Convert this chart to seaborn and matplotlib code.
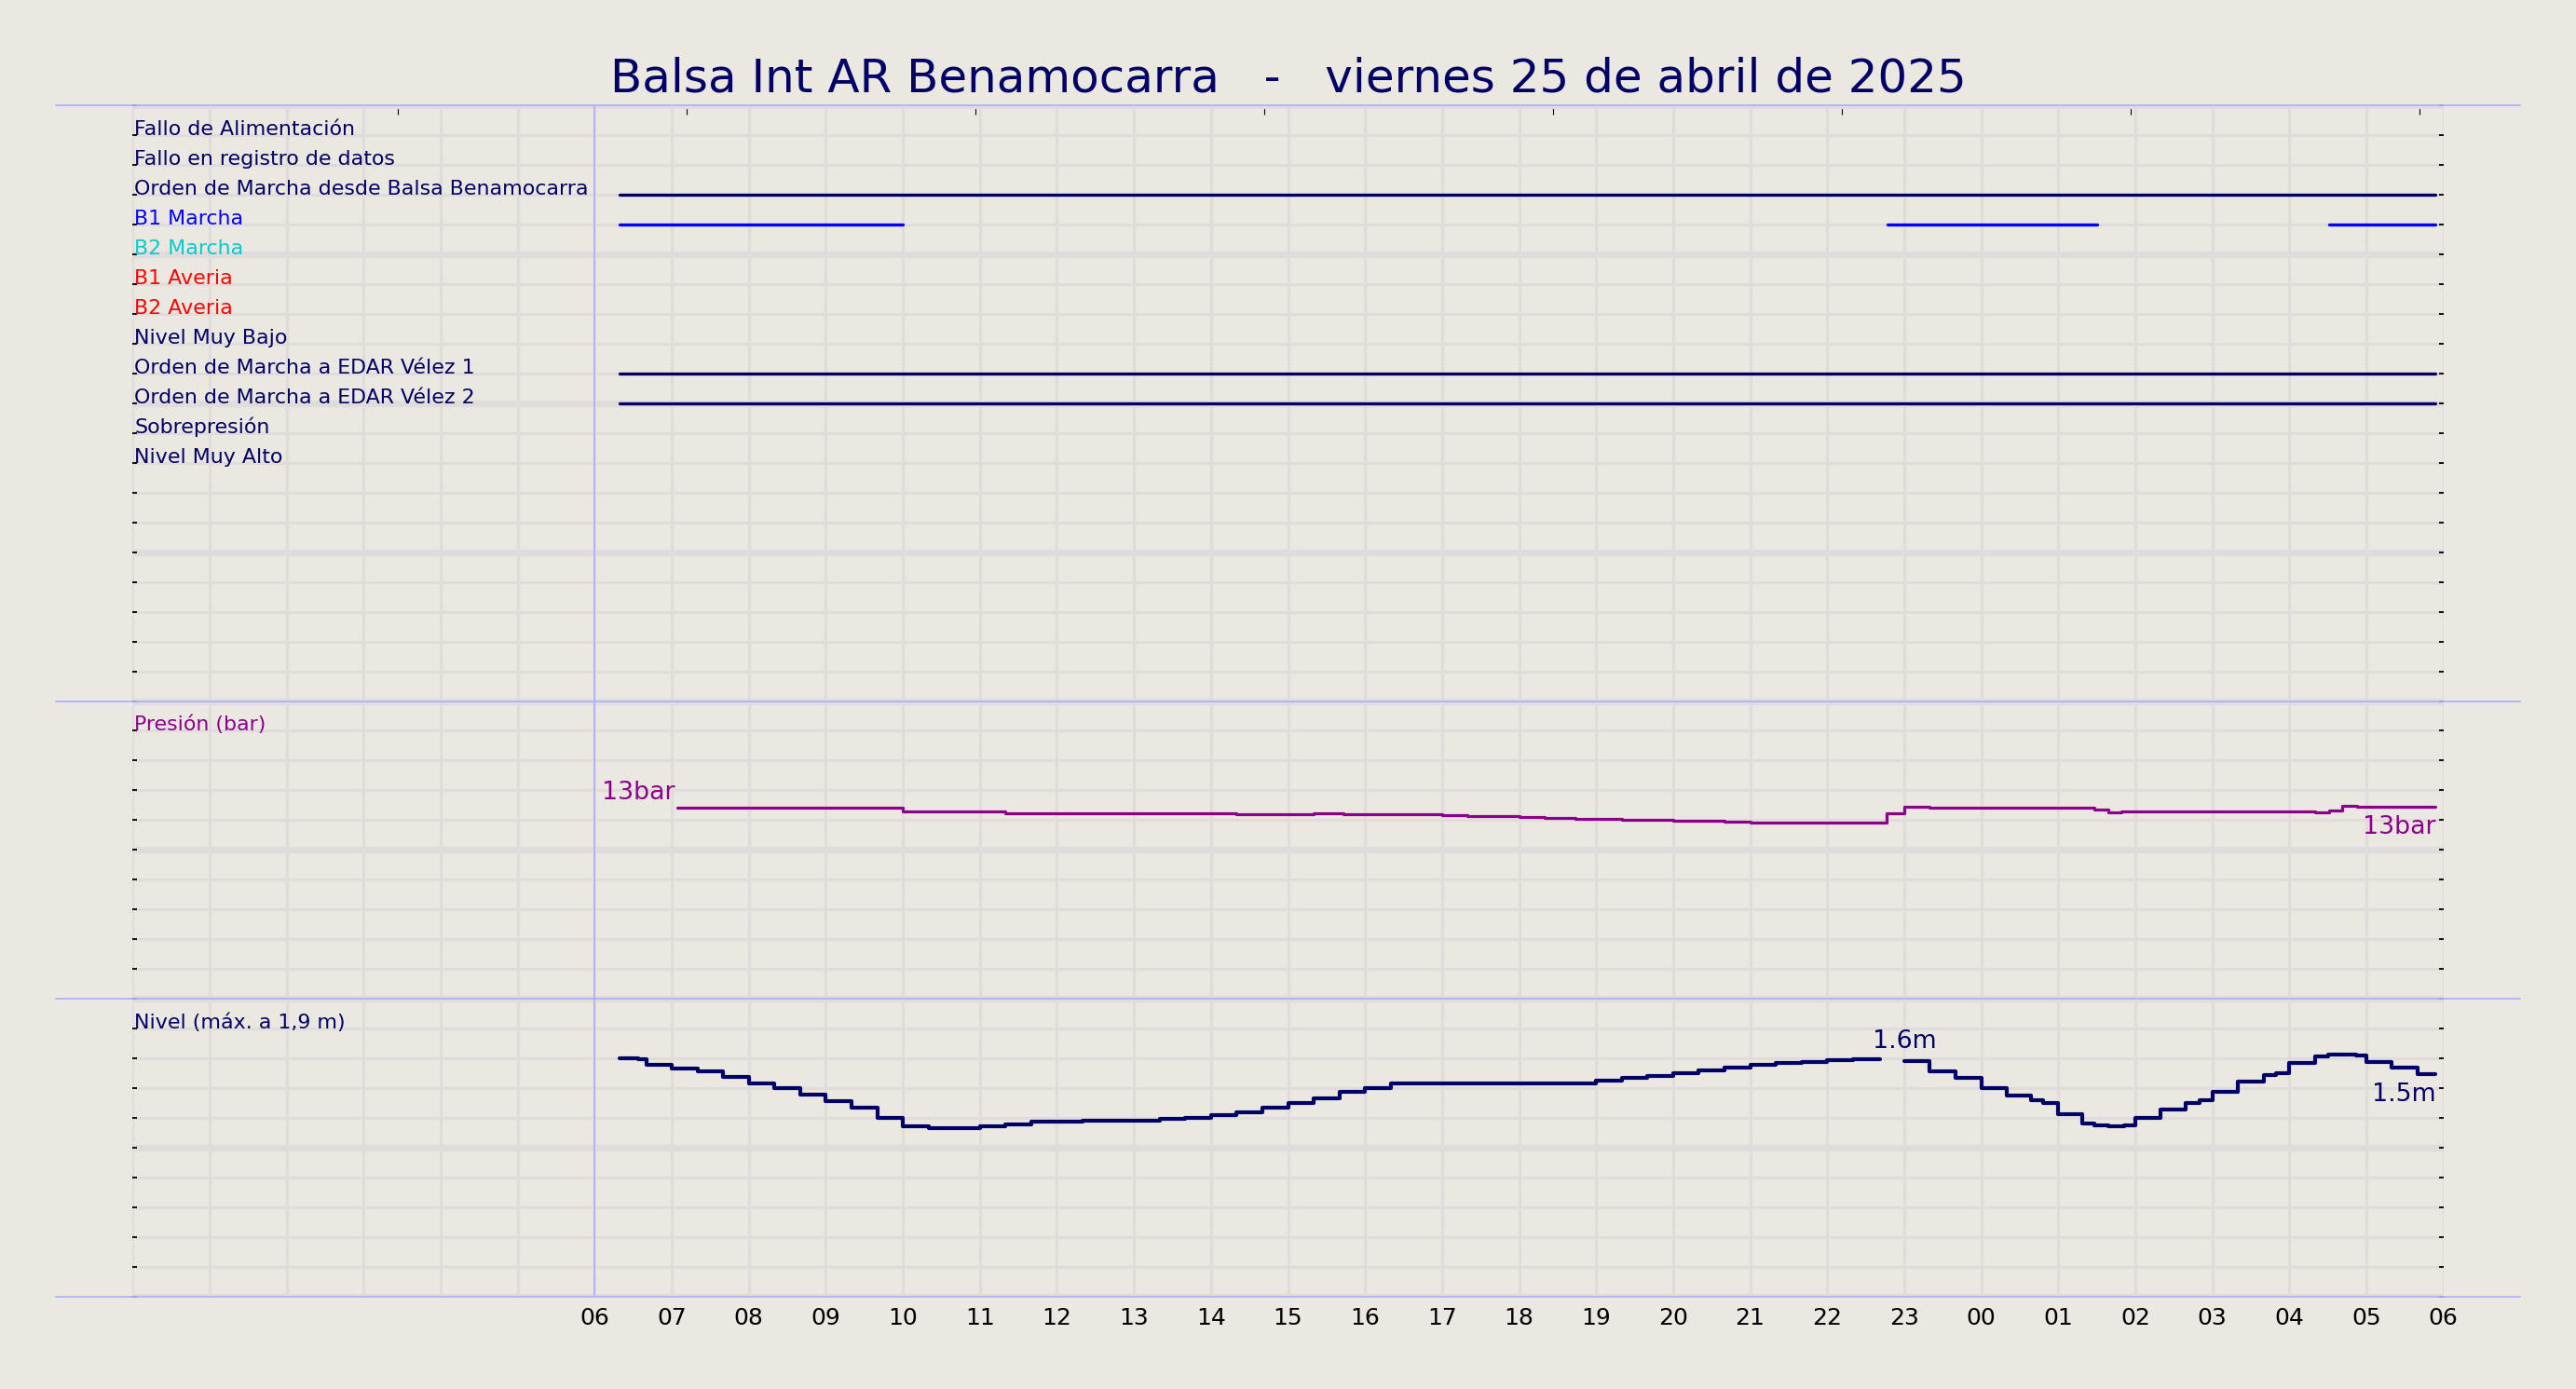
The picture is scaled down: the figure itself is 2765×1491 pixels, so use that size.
import pandas as pd
import seaborn as sns
import matplotlib.pyplot as plt

# values
title = "Balsa Int AR Benamocarra   -   viernes 25 de abril de 2025"

signal_names = ["Fallo de Alimentación", "Fallo en registro de datos",
                "Orden de Marcha desde Balsa Benamocarra", "B1 Marcha", "B2 Marcha",
                "B1 Averia", "B2 Averia", "Nivel Muy Bajo",
                "Orden de Marcha a EDAR Vélez 1", "Orden de Marcha a EDAR Vélez 2",
                "Sobrepresión", "Nivel Muy Alto"]
signal_colors = ["#000066", "#000066", "#000066", "#0000ff", "#00cccc", "#ff0000",
                 "#ff0000", "#000066", "#000066", "#000066", "#000066", "#000066"]

# (start, end) of every "on" interval
signal_on = {
    "Orden de Marcha desde Balsa Benamocarra": [("06:19", "05:54")],
    "B1 Marcha": [("06:19", "10:00"), ("22:47", "01:30"), ("04:31", "05:54")],
    "Orden de Marcha a EDAR Vélez 1": [("06:19", "05:54")],
    "Orden de Marcha a EDAR Vélez 2": [("06:19", "05:54")],
}

# pressure (bar)
pres_time = ["07:04", "10:00", "11:20", "14:20", "15:20", "15:43", "17:00", "17:20",
             "18:00", "18:20", "18:44", "19:20", "20:00", "20:40", "21:00", "22:00",
             "22:46", "23:00", "23:20", "01:20", "01:28", "01:39", "01:49", "04:20",
             "04:31", "04:41", "04:53", "05:54"]
pres_val = [12.86, 12.56, 12.48, 12.42, 12.48, 12.42, 12.35, 12.29,
            12.23, 12.17, 12.10, 12.04, 11.98, 11.92, 11.85, 11.81,
            12.48, 12.92, 12.86, 12.81, 12.71, 12.50, 12.56, 12.50,
            12.67, 12.94, 12.88, 12.88]

# level (m), two stretches with a gap 22:41-23:00
level_time_1 = ["06:19", "06:34", "06:40", "07:00", "07:20", "07:40", "08:00", "08:20",
                "08:40", "09:00", "09:20", "09:40", "10:00", "10:20", "11:00", "11:20",
                "11:40", "12:20", "13:20", "13:40", "14:00", "14:20", "14:40", "15:00",
                "15:20", "15:40", "16:00", "16:20", "19:00", "19:20", "19:40", "20:00",
                "20:20", "20:40", "21:00", "21:20", "21:40", "22:00", "22:20", "22:41"]
level_val_1 = [1.600, 1.592, 1.560, 1.533, 1.515, 1.479, 1.435, 1.402,
               1.360, 1.315, 1.271, 1.198, 1.142, 1.133, 1.146, 1.160,
               1.173, 1.185, 1.192, 1.200, 1.217, 1.240, 1.271, 1.302,
               1.333, 1.376, 1.402, 1.433, 1.452, 1.471, 1.485, 1.502,
               1.521, 1.537, 1.558, 1.571, 1.579, 1.587, 1.596, 1.596]
level_time_2 = ["23:00", "23:20", "23:40", "00:00", "00:20", "00:39", "00:48", "01:00",
                "01:19", "01:28", "01:39", "01:51", "02:00", "02:20", "02:39", "02:50",
                "03:00", "03:20", "03:40", "03:50", "04:00", "04:20", "04:30", "04:39",
                "04:52", "05:00", "05:20", "05:40", "05:54"]
level_val_2 = [1.585, 1.515, 1.471, 1.398, 1.354, 1.321, 1.304, 1.225,
               1.163, 1.150, 1.144, 1.150, 1.204, 1.260, 1.304, 1.321,
               1.377, 1.444, 1.487, 1.502, 1.571, 1.615, 1.625, 1.629,
               1.621, 1.577, 1.537, 1.496, 1.496]

top_ticks = [3.44, 7.19, 10.94, 14.69, 18.44, 22.19, 25.94, 29.69]

navy = "#000066"
purple = "#8b008b"
lavender = "#b0b0ff"
bg = "#ebe7e1"
grid_c = "#e1dcdb"


def hours(t):
    h, m = map(int, t.split(":"))
    v = h + m / 60
    return v + 24 if v < 6 else v


sns.set_theme(style="whitegrid", rc={"axes.facecolor": bg, "figure.facecolor": bg,
                                     "grid.color": grid_c})
plt.rcParams["font.family"] = ["DejaVu Sans"]

fig = plt.figure(figsize=(27.65, 14.91), dpi=100)
ax = fig.add_axes([0.0515, 0.0664, 0.8970, 0.8578])

# on/off signals, one row each (row 39 at the top)
rows = []
for i, name in enumerate(signal_names):
    for k, (a, b) in enumerate(signal_on.get(name, [])):
        rows.append(dict(signal=name, seg=k, h=hours(a), y=39 - i))
        rows.append(dict(signal=name, seg=k, h=hours(b), y=39 - i))
sig = pd.DataFrame(rows)
for name, g in sig.groupby("signal", sort=False):
    sns.lineplot(data=g, x="h", y="y", units="seg", estimator=None, ax=ax,
                 color=signal_colors[signal_names.index(name)], lw=2.4, legend=False)

for i, name in enumerate(signal_names):
    ax.text(0.02, 39 - i, name, color=signal_colors[i], fontsize=15.9,
            ha="left", va="baseline")

# pressure section: 0..20 bar -> rows 10..20
pres = pd.DataFrame({"h": [hours(t) for t in pres_time], "bar": pres_val})
pres["y"] = 10 + pres["bar"] / 2
sns.lineplot(data=pres, x="h", y="y", estimator=None, drawstyle="steps-post",
             color=purple, lw=2.3, ax=ax, legend=False)
ax.text(0.02, 19, "Presión (bar)", color=purple, fontsize=15.9, va="baseline")
ax.annotate(f"{pres_val[0]:.0f}bar", xy=(pres["h"].iloc[0], pres["y"].iloc[0]),
            xytext=(-1.5, 6), textcoords="offset points", ha="right", va="baseline",
            color=purple, fontsize=19.3)
ax.annotate(f"{pres_val[-1]:.0f}bar", xy=(pres["h"].iloc[-1], pres["y"].iloc[-1]),
            xytext=(0, -6), textcoords="offset points", ha="right", va="top",
            color=purple, fontsize=19.3)

# level section: 0..2 m -> rows 0..10
lev = pd.DataFrame({"h": [hours(t) for t in level_time_1 + level_time_2],
                    "m": level_val_1 + level_val_2,
                    "seg": [0] * len(level_time_1) + [1] * len(level_time_2)})
lev["y"] = lev["m"] * 5
sns.lineplot(data=lev, x="h", y="y", units="seg", estimator=None, drawstyle="steps-post",
             color=navy, lw=3.0, ax=ax, legend=False)
ax.text(0.02, 9, "Nivel (máx. a 1,9 m)", color=navy, fontsize=15.9, va="baseline")
ax.annotate(f"{max(level_val_1):.1f}m", xy=(hours(level_time_2[0]), 5 * max(level_val_1)),
            xytext=(0, 8), textcoords="offset points", ha="center", va="baseline",
            color=navy, fontsize=19.3)
ax.annotate(f"{level_val_2[-1]:.1f}m", xy=(hours(level_time_2[-1]), 5 * level_val_2[-1]),
            xytext=(0, -6.5), textcoords="offset points", ha="right", va="top",
            color=navy, fontsize=19.3)

# section separators
for yy in [40, 20, 10, 0]:
    ax.axhline(yy, xmin=-0.0333, xmax=1.0332, color=lavender, lw=1.3, clip_on=False, zorder=3)
ax.axvline(6, color=lavender, lw=1.3, zorder=3)

ax.set_xlim(0, 30)
ax.set_ylim(0, 40)
ax.set_xlabel("")
ax.set_ylabel("")
ax.set_xticks(range(0, 31))
ax.set_xticklabels([""] * 6 + [f"{h % 24:02d}" for h in range(6, 31)])
ax.set_yticks(range(0, 41, 5))
ax.set_yticks(range(0, 41), minor=True)
ax.set_yticklabels([])
ax.grid(False)
ax.grid(which="major", axis="x", color=grid_c, lw=2.4)
ax.grid(which="major", axis="y", color=grid_c, lw=5.2)
ax.grid(which="minor", axis="y", color=grid_c, lw=2.2)
ax.set_axisbelow(True)
ax.tick_params(axis="x", which="both", length=0, labelsize=18, pad=8, labelcolor="black")
ax.tick_params(axis="y", which="both", direction="in", left=True, right=True,
               length=3.5, width=1.3, color="black", labelleft=False)
for s in ax.spines.values():
    s.set_visible(False)

top = ax.secondary_xaxis("top")
top.set_xticks(top_ticks)
top.tick_params(direction="in", length=7, width=0.8, color="black", labeltop=False)
top.spines["top"].set_visible(False)

fig.text(0.5, 0.934, title, ha="center", va="baseline", color=navy, fontsize=36)

fig.savefig("out.png", dpi=100, facecolor=bg)
